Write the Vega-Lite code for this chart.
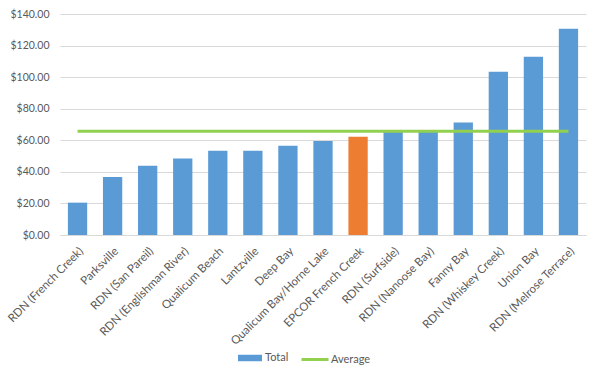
{
  "$schema": "https://vega.github.io/schema/vega-lite/v6.json",
  "width": 526,
  "height": 221,
  "autosize": {"type": "none"},
  "padding": {"left": 60, "top": 14, "right": 14, "bottom": 142},
  "background": "#ffffff",
  "config": {
    "view": {"stroke": null},
    "font": "Lato",
    "axis": {"labelFont": "Lato", "labelFontSize": 10.5, "labelColor": "#595959", "ticks": false, "gridColor": "#D9D9D9", "domainColor": "#D9D9D9"},
    "axisY": {"labelOverlap": false, "labelFlush": false, "labelBound": false},
    "legend": {"labelFont": "Lato", "labelFontSize": 11, "labelColor": "#595959"}
  },
  "data": {
    "values": [
      {"name": "RDN (French Creek)", "total": 20.5, "average": 65.8, "series": "Total"},
      {"name": "Parksville", "total": 36.8, "average": 65.8, "series": "Total"},
      {"name": "RDN (San Pareil)", "total": 43.9, "average": 65.8, "series": "Total"},
      {"name": "RDN (Englishman River)", "total": 48.4, "average": 65.8, "series": "Total"},
      {"name": "Qualicum Beach", "total": 53.3, "average": 65.8, "series": "Total"},
      {"name": "Lantzville", "total": 53.3, "average": 65.8, "series": "Total"},
      {"name": "Deep Bay", "total": 56.6, "average": 65.8, "series": "Total"},
      {"name": "Qualicum Bay/Horne Lake", "total": 59.5, "average": 65.8, "series": "Total"},
      {"name": "EPCOR French Creek", "total": 62.3, "average": 65.8, "series": "Total"},
      {"name": "RDN (Surfside)", "total": 65.8, "average": 65.8, "series": "Total"},
      {"name": "RDN (Nanoose Bay)", "total": 65.5, "average": 65.8, "series": "Total"},
      {"name": "Fanny Bay", "total": 71.2, "average": 65.8, "series": "Total"},
      {"name": "RDN (Whiskey Creek)", "total": 103.4, "average": 65.8, "series": "Total"},
      {"name": "Union Bay", "total": 112.9, "average": 65.8, "series": "Total"},
      {"name": "RDN (Melrose Terrace)", "total": 130.7, "average": 65.8, "series": "Total"}
    ]
  },
  "encoding": {
    "x": {
      "field": "name",
      "type": "nominal",
      "sort": null,
      "scale": {"paddingInner": 0.45, "paddingOuter": 0.225},
      "axis": {"title": null, "labelAngle": -45, "labelPadding": 10, "labelFontSize": 11.5, "grid": false, "domain": true, "labelOverlap": false}
    },
    "y": {
      "type": "quantitative",
      "scale": {"domain": [0, 140], "nice": false},
      "axis": {"title": null, "tickCount": 7, "format": "$,.2f", "labelPadding": 11, "domain": false, "grid": true}
    }
  },
  "layer": [
    {
      "mark": {"type": "bar"},
      "encoding": {
        "y": {"field": "total"},
        "color": {
          "condition": {"test": "datum.name === 'EPCOR French Creek'", "value": "#ED7D31"},
          "field": "series",
          "type": "nominal",
          "scale": {"domain": ["Total"], "range": ["#5B9BD5"]},
          "legend": {"title": null, "orient": "none", "legendX": 178, "legendY": 332, "symbolType": "M-1,-0.27H1V0.27H-1Z", "symbolSize": 576, "symbolStrokeWidth": 0, "labelOffset": 3}
        }
      }
    },
    {
      "mark": {"type": "line", "strokeWidth": 3},
      "encoding": {
        "y": {"field": "average"},
        "stroke": {
          "datum": "Average",
          "type": "nominal",
          "scale": {"domain": ["Average"], "range": ["#92D050"]},
          "legend": {"title": null, "orient": "none", "legendX": 240, "legendY": 330.5, "symbolType": "stroke", "symbolSize": 729, "symbolStrokeWidth": 3, "labelOffset": 1}
        }
      }
    }
  ]
}
